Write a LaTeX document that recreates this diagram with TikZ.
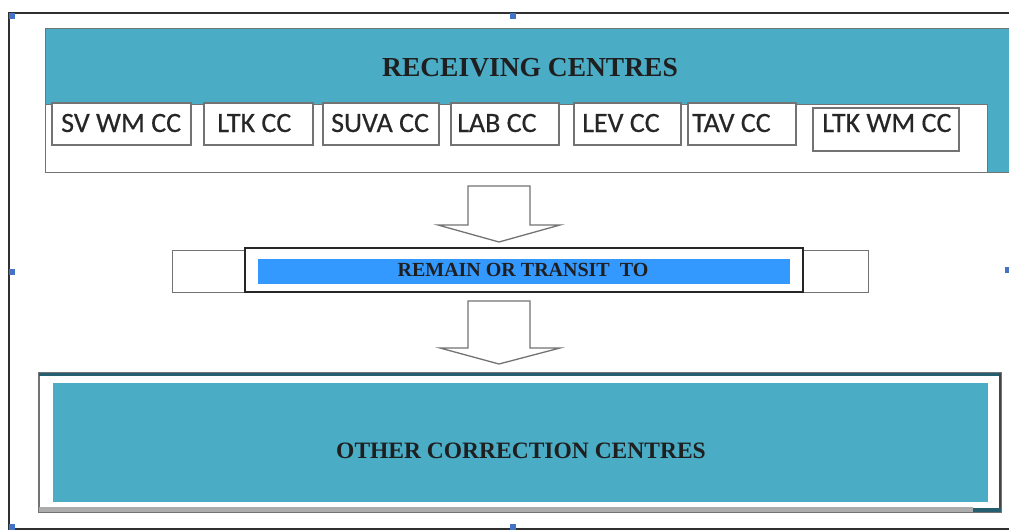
\documentclass[tikz,border=0pt]{standalone}
\usepackage{fontspec}
\setmainfont{Liberation Serif}
\newfontfamily\calfont[FakeBold=0.4]{Carlito}
\definecolor{aqua}{HTML}{4BACC6}
\definecolor{brightblue}{HTML}{3399FF}
\definecolor{darkaqua}{HTML}{245E6F}
\definecolor{framec}{HTML}{303030}
\definecolor{boxgray}{HTML}{737373}
\definecolor{handle}{HTML}{4472C4}
\tikzset{
  plainbox/.style={rectangle, inner sep=0pt, outer sep=0pt, anchor=north west},
  cbox/.style={plainbox, draw=boxgray, line width=1.3pt, fill=white},
  ctext/.style={anchor=base west, inner sep=0pt, font=\calfont\fontsize{28}{30}\selectfont, text=black!85},
  blockarrow/.style={draw=boxgray, line width=1.3pt, fill=white, line join=miter},
  handlemark/.style={fill=handle, draw=none}
}
\begin{document}
\begin{tikzpicture}[x=1pt,y=-1pt]
\useasboundingbox (0,0) rectangle (1009,532);
\fill[white] (0,0) rectangle (1009,532);

% selection frame
\draw[framec, line width=2pt] (1012,13) -- (9,13) -- (9,529) -- (1012,529);
\foreach \hx/\hy in {12/16, 513/16, 12/272, 12/527, 513/527, 1008/270}
  \fill[handlemark] (\hx-3,\hy-3) rectangle (\hx+3,\hy+3);

% receiving centres block
\node[plainbox, draw=boxgray, line width=1pt, fill=aqua, minimum width=970, minimum height=143] (recv) at (45,29) {};
\node[plainbox, draw=boxgray, line width=1pt, fill=white, minimum width=942, minimum height=67] (recvlist) at (45,105) {};
\node[anchor=base, inner sep=0pt, font=\bfseries\fontsize{27.5}{30}\selectfont, text=black!88] (recvtitle) at (530,77) {RECEIVING CENTRES};

\node[cbox, minimum width=139, minimum height=42] (b1) at (52,103) {};
\node[ctext] (t1) at (61,132) {SV WM CC};
\node[cbox, minimum width=109, minimum height=42] (b2) at (204,103) {};
\node[ctext] (t2) at (217,132) {LTK CC};
\node[cbox, minimum width=116, minimum height=42] (b3) at (323,103) {};
\node[ctext] (t3) at (331,132) {SUVA CC};
\node[cbox, minimum width=108, minimum height=42] (b4) at (451,103) {};
\node[ctext] (t4) at (457,132) {LAB CC};
\node[cbox, minimum width=107, minimum height=42] (b5) at (574,103) {};
\node[ctext] (t5) at (582,132) {LEV CC};
\node[cbox, minimum width=108, minimum height=42] (b6) at (688,103) {};
\node[ctext] (t6) at (692,132) {TAV CC};
\node[cbox, minimum width=146, minimum height=43] (b7) at (813,108) {};
\node[ctext] (t7) at (822,132) {LTK WM CC};

% arrow 1
\draw[blockarrow] (468,186) -- (530,186) -- (530,225) -- (560,225) -- (499,242) -- (438,225) -- (468,225) -- cycle;

% remain or transit bar
\node[plainbox, draw=boxgray, line width=1pt, fill=white, minimum width=696, minimum height=42] (bar) at (172,250) {};
\node[plainbox, draw=black!85, line width=1.4pt, fill=white, minimum width=558, minimum height=44] (barin) at (245,248) {};
\node[plainbox, fill=brightblue, minimum width=532, minimum height=25] (barfill) at (258,259) {};
\node[anchor=base, inner sep=0pt, font=\bfseries\fontsize{20}{22}\selectfont, text=black!88] (bartext) at (523,276) {REMAIN OR TRANSIT\ \ TO};

% arrow 2
\draw[blockarrow] (468,301) -- (530,301) -- (530,348) -- (560,348) -- (499,364) -- (440,348) -- (468,348) -- cycle;

% other correction centres
\node[plainbox, draw=boxgray, line width=1.2pt, fill=white, minimum width=962, minimum height=139] (other) at (39,373) {};
\draw[darkaqua, line width=3pt] (other.north west) ++(0,1.5) -- ([yshift=-1.5pt]other.north east);
\draw[framec!90, line width=2pt] ([xshift=-1pt]other.north east) -- ([xshift=-1pt]other.south east);
\fill[gray!65] (39,507) rectangle (973,512);
\fill[darkaqua] (973,508) rectangle (1001,512);
\node[plainbox, fill=aqua, minimum width=935, minimum height=119] (otherfill) at (53,383) {};
\node[anchor=base, inner sep=0pt, font=\bfseries\fontsize{23.5}{26}\selectfont, text=black!88] (othertext) at (521,458) {OTHER CORRECTION CENTRES};
\end{tikzpicture}
\end{document}
